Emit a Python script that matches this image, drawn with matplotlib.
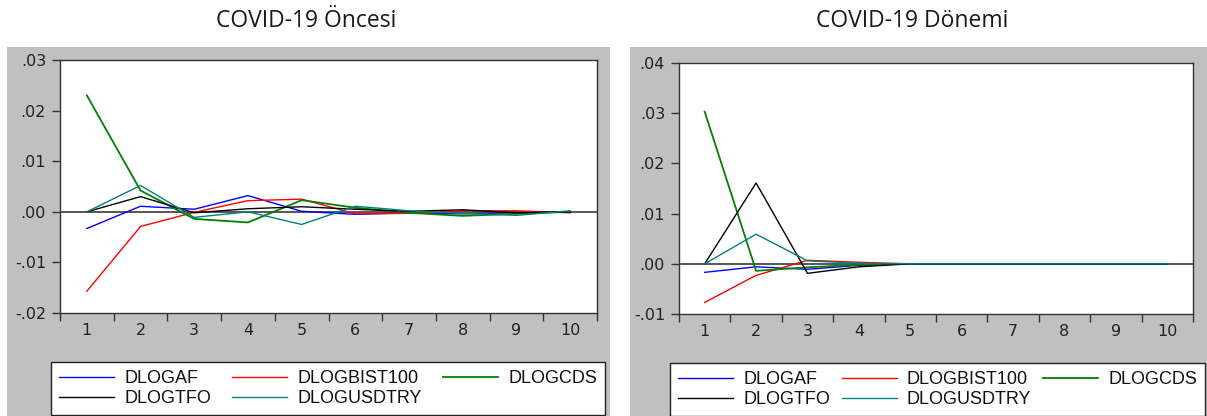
import matplotlib
matplotlib.use("Agg")
import matplotlib.pyplot as plt
from matplotlib.patches import Rectangle
import numpy as np

# ---------------- data ----------------
periods = [1, 2, 3, 4, 5, 6, 7, 8, 9, 10]
series_names = ["DLOGAF", "DLOGBIST100", "DLOGCDS", "DLOGTFO", "DLOGUSDTRY"]
series_colors = ["#0000ff", "#ff0000", "#008000", "#000000", "#008080"]

af_pre = [-0.0033, 0.0011, 0.0005, 0.0032, 0.0001, -0.0005, -0.0002, -0.0004, -0.0002, 0.0000]
bist_pre = [-0.0157, -0.0029, -0.0001, 0.0022, 0.0025, -0.0004, -0.0003, 0.0002, 0.0002, -0.0002]
cds_pre = [0.0230, 0.0042, -0.0014, -0.0021, 0.0023, 0.0008, -0.0002, -0.0008, -0.0004, 0.0000]
tfo_pre = [0.0000, 0.0030, -0.0002, 0.0006, 0.0010, 0.0005, 0.0001, 0.0004, -0.0002, 0.0000]
usd_pre = [0.0000, 0.0052, -0.0011, 0.0000, -0.0025, 0.0011, 0.0002, -0.0003, -0.0007, 0.0002]

af_post = [-0.0017, -0.0006, -0.0011, -0.0003, 0.0, 0.0, 0.0, 0.0, 0.0, 0.0]
bist_post = [-0.0077, -0.0023, 0.0007, 0.0003, 0.0, 0.0, 0.0, 0.0, 0.0, 0.0]
cds_post = [0.0303, -0.0014, -0.0007, -0.0002, 0.0, 0.0, 0.0, 0.0, 0.0, 0.0]
tfo_post = [0.0000, 0.0161, -0.0019, -0.0006, 0.0, 0.0, 0.0, 0.0, 0.0, 0.0]
usd_post = [0.0000, 0.0059, 0.0006, 0.0001, 0.0, 0.0, 0.0, 0.0, 0.0, 0.0]

titles = ["COVID-19 Öncesi", "COVID-19 Dönemi"]
yticks_pre = [-0.02, -0.01, 0.00, 0.01, 0.02, 0.03]
ylabels_pre = ["-.02", "-.01", ".00", ".01", ".02", ".03"]
yticks_post = [-0.01, 0.00, 0.01, 0.02, 0.03, 0.04]
ylabels_post = ["-.01", ".00", ".01", ".02", ".03", ".04"]

# ---------------- figure ----------------
W, H = 1207, 416
fig = plt.figure(figsize=(W / 100, H / 100), dpi=100)
fig.patch.set_facecolor("white")


def fx(px):
    return px / W


def fy(py):
    return 1 - py / H


grey = "#c0c0c0"
fig.add_artist(Rectangle((fx(7), fy(416)), fx(610) - fx(7), fy(47) - fy(416),
                         transform=fig.transFigure, facecolor=grey, edgecolor="none", zorder=0))
fig.add_artist(Rectangle((fx(630), fy(416)), fx(1207) - fx(630), fy(47) - fy(416),
                         transform=fig.transFigure, facecolor=grey, edgecolor="none", zorder=0))

panels = [
    dict(box=(60, 60, 597, 313), data=[af_pre, bist_pre, cds_pre, tfo_pre, usd_pre],
         yt=yticks_pre, yl=ylabels_pre, title_x=306, leg=(51, 362, 605, 412)),
    dict(box=(679, 63, 1193, 314), data=[af_post, bist_post, cds_post, tfo_post, usd_post],
         yt=yticks_post, yl=ylabels_post, title_x=912, leg=(670, 363, 1205, 413)),
]

tick_font = dict(family=["DejaVu Sans"], size=11.5)

for i, p in enumerate(panels):
    x0, y0, x1, y1 = p["box"]
    ax = fig.add_axes([fx(x0), fy(y1), fx(x1) - fx(x0), fy(y0) - fy(y1)])
    ax.set_facecolor("white")
    ax.axhline(0, color="#3a3a3a", lw=1.2, zorder=1)
    lines = []
    for vals, name, col in zip(p["data"], series_names, series_colors):
        lw = 1.3 if name == "DLOGCDS" else 1.0
        (ln,) = ax.plot(periods, vals, color=col, lw=lw, label=name, zorder=2)
        lines.append(ln)
    ax.set_xlim(0.5, 10.5)
    ax.set_ylim(p["yt"][0], p["yt"][-1])
    ax.set_yticks(p["yt"])
    ax.set_yticklabels(p["yl"], fontdict=tick_font, color="#222222")
    ax.set_xticks(np.arange(0.5, 11.0, 1.0))
    ax.set_xticklabels([])
    ax.set_xticks(periods, minor=True)
    ax.set_xticklabels([str(v) for v in periods], minor=True, fontdict=tick_font, color="#222222")
    ax.tick_params(axis="x", which="major", direction="out", length=6, width=1, color="#333333")
    ax.tick_params(axis="x", which="minor", length=0, pad=7)
    ax.tick_params(axis="y", direction="out", length=6, width=1, color="#333333", pad=4)
    for s in ax.spines.values():
        s.set_color("#333333")
        s.set_linewidth(1.0)

    fig.text(fx(p["title_x"]), fy(27), titles[i], ha="center", va="baseline",
             family=["Open Sans", "DejaVu Sans"], size=16.5, color="#1a1a1a")

    lx0, ly0, lx1, ly1 = p["leg"]
    order = [0, 3, 1, 4, 2]
    leg = ax.legend([lines[k] for k in order], [series_names[k] for k in order],
                    ncol=3, loc="upper left", mode="expand",
                    bbox_to_anchor=(fx(lx0), fy(ly1), fx(lx1) - fx(lx0), fy(ly0) - fy(ly1)),
                    bbox_transform=fig.transFigure,
                    prop=dict(family=["Liberation Sans", "DejaVu Sans"], size=13),
                    handlelength=3.05, handletextpad=0.55, columnspacing=1.0,
                    labelspacing=0.15, borderpad=0.45, borderaxespad=0.0,
                    frameon=True, fancybox=False, framealpha=1.0)
    leg.get_frame().set_edgecolor("#222222")
    leg.get_frame().set_linewidth(1.0)
    for t in leg.get_texts():
        t.set_color("#111111")

fig.savefig("out.png", dpi=100)
